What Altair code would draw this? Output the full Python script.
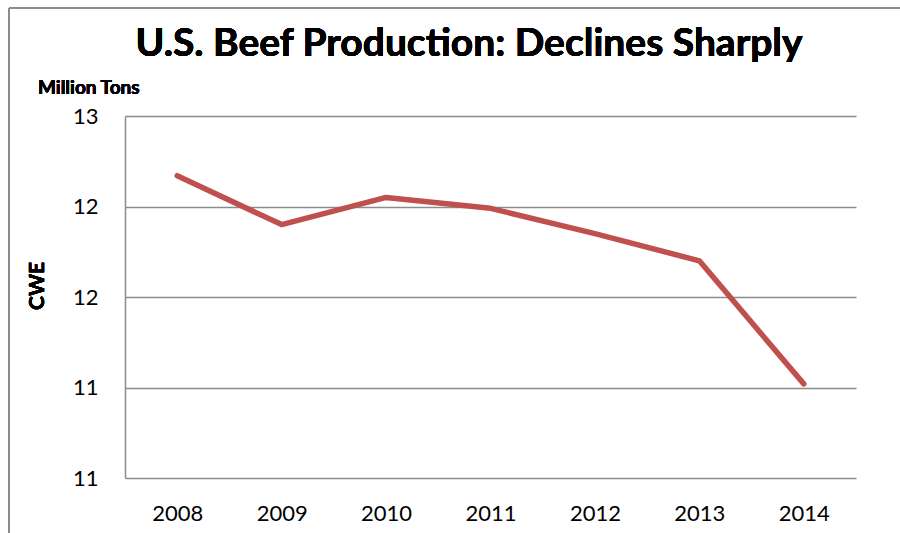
import altair as alt
import pandas as pd

years = ["2008", "2009", "2010", "2011", "2012", "2013", "2014"]
production = [12.27, 12.00, 12.15, 12.09, 11.95, 11.80, 11.12]
y_ticks = [10.6, 11.1, 11.6, 12.1, 12.6]

df = pd.DataFrame({"year": years, "value": production})
FONT = "Lato"

base = alt.Chart(df)

line = base.mark_line(color="#C0504D", strokeWidth=5.5, strokeCap="round", strokeJoin="round").encode(
    x=alt.X("year:N", sort=years, title=None,
            scale=alt.Scale(paddingInner=0, paddingOuter=0.5),
            axis=alt.Axis(labelAngle=0, labelFontSize=22, labelFont=FONT, labelColor="#000000",
                          ticks=False, domain=False, grid=False, labelPadding=25)),
    y=alt.Y("value:Q", title=None,
            scale=alt.Scale(domain=[10.6, 12.6], nice=False, zero=False),
            axis=alt.Axis(values=y_ticks, format=".0f", labelFontSize=22, labelFont=FONT,
                          labelColor="#000000", ticks=False, domainColor="#8C8C8C", domainWidth=1.5,
                          gridColor="#8C8C8C", gridWidth=1.5, labelPadding=27)),
)

title = base.mark_text(text="U.S. Beef Production: Declines Sharply", font=FONT, fontSize=39,
                       fontWeight="bold", align="center", baseline="alphabetic", color="#000000").encode(
    x=alt.value(344), y=alt.value(-60))

units = base.mark_text(text="Million Tons", font=FONT, fontSize=19, fontWeight="bold",
                       align="left", baseline="middle", color="#000000").encode(
    x=alt.value(-87), y=alt.value(-28))

cwe = base.mark_text(text="CWE", font=FONT, fontSize=21, fontWeight="bold", angle=270,
                     align="center", baseline="middle", color="#000000").encode(
    x=alt.value(-87), y=alt.value(170))

frame_top = base.mark_rule(color="#8C8C8C", strokeWidth=1.5).encode(
    x=alt.value(-116), x2=alt.value(800), y=alt.value(-108))
frame_left = base.mark_rule(color="#8C8C8C", strokeWidth=1.5).encode(
    x=alt.value(-116), y=alt.value(-108), y2=alt.value(450))

chart = alt.layer(frame_top, frame_left, line, title, units, cwe).properties(
    width=731, height=362,
    autosize=alt.AutoSizeParams(type="none"),
    padding={"left": 125, "top": 116, "right": 44, "bottom": 55},
    background="#FFFFFF",
).configure_view(stroke=None).configure_axisY(gridDash=[])

chart.save("out.html", embed_options={"renderer": "svg", "actions": False})
